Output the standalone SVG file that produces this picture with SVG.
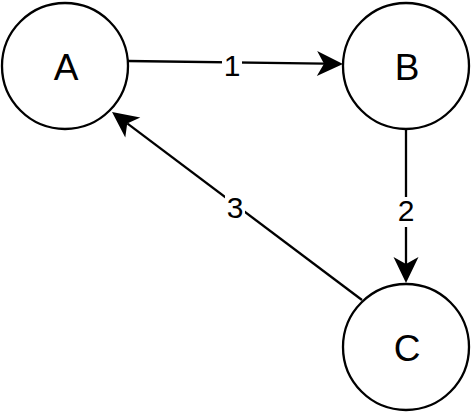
<svg xmlns="http://www.w3.org/2000/svg" width="472" height="413" viewBox="0 0 472 413">
<style>
.node{fill:#fff;stroke:#000;stroke-width:2.3}
.nl{font-family:"Liberation Sans",Arial,sans-serif;font-size:37px;fill:#000;text-anchor:middle}
.edge{stroke:#000;stroke-width:2.3;fill:none}
.el{font-family:"Liberation Sans",Arial,sans-serif;font-size:30px;fill:#000;text-anchor:middle}
.bg{fill:#fff}
</style>
<defs>
<marker id="arr" markerUnits="userSpaceOnUse" markerWidth="30" markerHeight="30" refX="-19" refY="0" orient="auto" overflow="visible">
<path d="M0,0 L-26,-12.5 L-19,0 L-26,12.5 Z" fill="#000"/>
</marker>
</defs>
<rect width="472" height="413" fill="#fff"/>
<g id="connectors">
<g id="e1">
<line class="edge" x1="128" y1="61" x2="324" y2="63.7" marker-end="url(#arr)"/>
<rect class="bg" x="222" y="52" width="20" height="26"/>
<text class="el" x="232" y="76">1</text>
</g>
<g id="e2">
<line class="edge" x1="406" y1="128" x2="406" y2="264" marker-end="url(#arr)"/>
<rect class="bg" x="396" y="197" width="20" height="30"/>
<text class="el" x="406" y="221">2</text>
</g>
<g id="e3">
<line class="edge" x1="362" y1="300" x2="127.2" y2="123.4" marker-end="url(#arr)"/>
<rect class="bg" x="225" y="194" width="20" height="26"/>
<text class="el" x="235" y="218">3</text>
</g>
</g>
<g id="A">
<circle class="node" cx="65" cy="66" r="63"/>
<text class="nl" x="66" y="80">A</text>
</g>
<g id="B">
<circle class="node" cx="406" cy="66" r="63"/>
<text class="nl" x="407" y="80">B</text>
</g>
<g id="C">
<circle class="node" cx="406" cy="347" r="63"/>
<text class="nl" x="407" y="361">C</text>
</g>
</svg>
